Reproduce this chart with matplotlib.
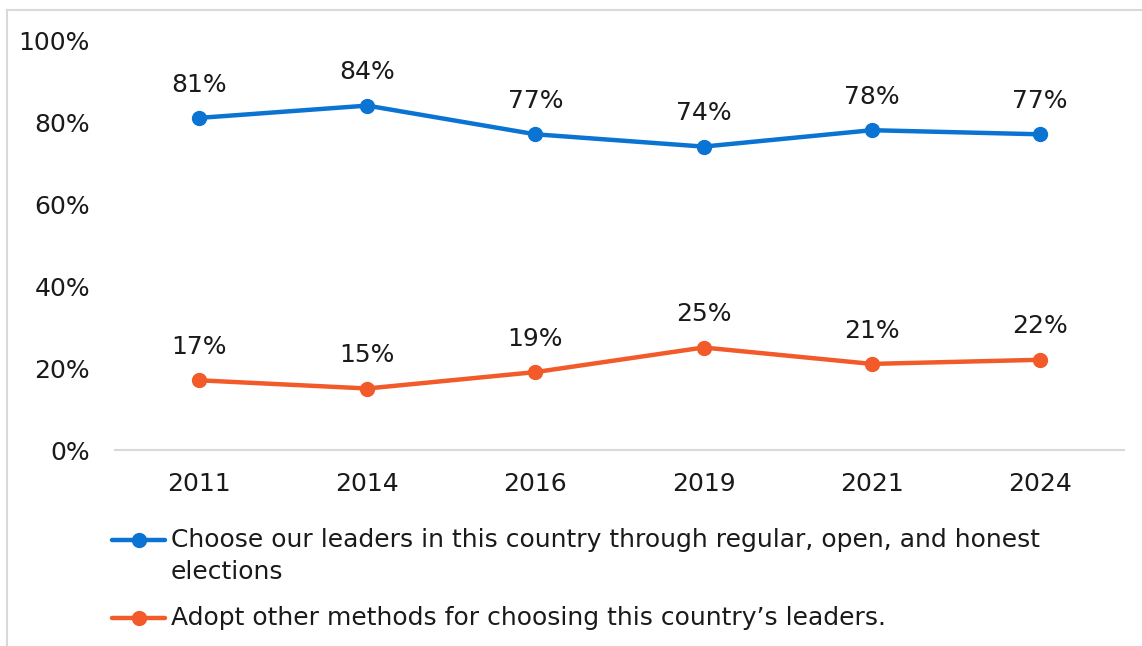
import matplotlib.pyplot as plt
from matplotlib.lines import Line2D

# Données
years = ['2011', '2014', '2016', '2019', '2021', '2024']
choose_leaders = [81, 84, 77, 74, 78, 77]
other_methods = [17, 15, 19, 25, 21, 22]
y_ticks = [0, 20, 40, 60, 80, 100]

label_choose = ['Choose our leaders in this country through regular, open, and honest', 'elections']
label_other = ['Adopt other methods for choosing this country\u2019s leaders.']

blue = '#0B74D3'
orange = '#F25A2A'
fs = 18
W, H = 1142, 646

plt.rcParams.update({
    'font.family': ['DejaVu Sans'],
    'font.size': fs,
    'text.color': '#1a1a1a',
})

fig = plt.figure(figsize=(W / 100, H / 100), dpi=100)
ax = fig.add_axes([115 / W, 1 - 450 / H, (1124 - 115) / W, 410 / H])

x = list(range(len(years)))
series = [(choose_leaders, blue, label_choose), (other_methods, orange, label_other)]
for values, color, label in series:
    ax.plot(x, values, color=color, linewidth=3.2, marker='o', markersize=10,
            solid_capstyle='round', zorder=3)
    for xi, v in zip(x, values):
        ax.annotate(f'{v}%', (xi, v), xytext=(0, 24), textcoords='offset points',
                    ha='center', va='center', fontsize=fs, color='#1a1a1a')

ax.set_xlim(-0.5, len(years) - 0.5)
ax.set_ylim(0, 100)
ax.set_xticks(x)
ax.set_xticklabels(years)
ax.set_yticks(y_ticks)
ax.set_yticklabels([f'{t}%' for t in y_ticks])
ax.tick_params(axis='both', length=0, labelsize=fs, colors='#1a1a1a')
ax.tick_params(axis='x', pad=16)
ax.tick_params(axis='y', pad=18)

for side in ['top', 'right', 'left']:
    ax.spines[side].set_visible(False)
ax.spines['bottom'].set_color('#D9D9D9')
ax.spines['bottom'].set_linewidth(1.5)

# Légende sous le graphique (dessinée à la main : le symbole reste sur la 1re ligne)
row_y = [540, 618]
for (values, color, lines), ry in zip(series, row_y):
    fy = 1 - ry / H
    fig.add_artist(Line2D([112 / W, 165 / W], [fy, fy], color=color, linewidth=3.2,
                          solid_capstyle='round'))
    fig.add_artist(Line2D([139 / W], [fy], color=color, marker='o', markersize=10,
                          linestyle='none'))
    for i, txt in enumerate(lines):
        fig.text(171 / W, 1 - (ry + 32 * i) / H, txt, ha='left', va='center',
                 fontsize=fs, color='#1a1a1a')

# Cadre gris clair (haut et gauche)
fig.add_artist(Line2D([7 / W, 7 / W], [0, 1 - 10 / H], color='#D9D9D9', linewidth=1.5))
fig.add_artist(Line2D([7 / W, 1], [1 - 10 / H, 1 - 10 / H], color='#D9D9D9', linewidth=1.5))

fig.savefig('out.png', dpi=100, facecolor='white')
